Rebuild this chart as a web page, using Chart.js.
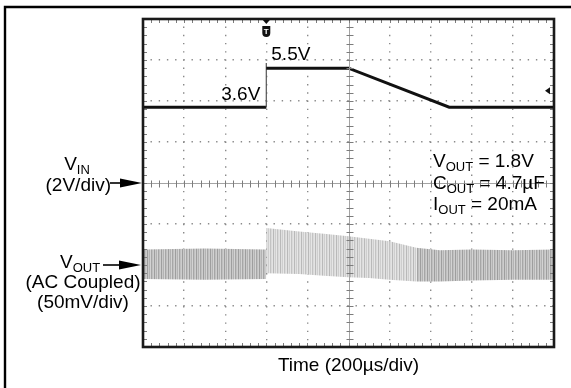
<!DOCTYPE html>
<html><head><meta charset="utf-8">
<script src="https://cdn.jsdelivr.net/npm/chart.js@4.4.1/dist/chart.umd.min.js"></script>
<style>html,body{margin:0;padding:0;background:#fff;overflow:hidden}#wrap{width:571px;height:388px;position:relative}</style>
</head><body><div id="wrap"><canvas id="c" width="571" height="388"></canvas></div>
<script>
// ---- axes (oscilloscope divisions) ----
const timeMin = -1000, timeMax = 1000, timeStep = 200;      // µs, 200 µs/div
const vinMin = -8, vinMax = 8, vinStep = 2;                  // V, 2 V/div, ground at centre
const voutMin = -100, voutMax = 300;                         // mV, 50 mV/div, AC coupled ground 2 div below centre

// ---- V_IN trace (time µs, volts) ----
const vinTime  = [-1000, -400, -400, -400, 0, 490, 1000];
const vinVolts = [3.7, 3.7, 5.85, 5.6, 5.6, 3.7, 3.7];

// ---- V_OUT ripple envelope (time µs, mV) ----
const voutTime   = [-1000, -700, -401, -400, -240, -120, 0, 100, 200, 330, 445, 600, 800, 1000];
const voutTop    = [19, 20, 19, 45, 41, 38, 35, 32, 29, 21, 18, 19, 18, 19];
const voutBottom = [-17, -18, -17, -10, -11, -13, -15, -16, -18, -20, -20, -19, -18, -18];

// ---- trigger ----
const triggerTime = -400, triggerLevel = 4.5;

// ---- texts ----
const levelLabels = ['3.6V', '5.5V'];
const vinLabel  = [['V', false], ['IN', true]];
const vinScale  = '(2V/div)';
const voutLabel = [['V', false], ['OUT', true]];
const voutLines = ['(AC Coupled)', '(50mV/div)'];
const notes = [
  [['V', false], ['OUT', true], [' = 1.8V', false]],
  [['C', false], ['OUT', true], [' = 4.7µF', false]],
  [['I', false], ['OUT', true], [' = 20mA', false]]
];
const timeTitle = 'Time (200µs/div)';

const FONT = "'Liberation Sans', Arial, Helvetica, sans-serif";

function makePattern(cols) {
  const c = document.createElement('canvas'); c.width = cols.length; c.height = 1;
  const x = c.getContext('2d');
  cols.forEach((col, i) => { x.fillStyle = col; x.fillRect(i, 0, 1, 1); });
  return x.createPattern(c, 'repeat');
}
const patDark  = makePattern(['#9e9e9e', '#c9c9c9', '#b3b3b3', '#d3d3d3', '#a6a6a6', '#c0c0c0', '#cdcdcd']);
const patLight = makePattern(['#b9b9b9', '#e0e0e0', '#cecece', '#e6e6e6', '#c3c3c3', '#dadada', '#e3e3e3']);

function drawRuns(ctx, x, y, runs, align) {
  const w = runs.map(r => { ctx.font = (r[1] ? '13px ' : '19px ') + FONT; return ctx.measureText(r[0]).width; });
  const total = w.reduce((a, b) => a + b, 0);
  let cx = align === 'center' ? x - total / 2 : align === 'right' ? x - total : x;
  ctx.textAlign = 'left'; ctx.textBaseline = 'alphabetic';
  runs.forEach((r, i) => { ctx.font = (r[1] ? '13px ' : '19px ') + FONT; ctx.fillText(r[0], cx, y + (r[1] ? 4 : 0)); cx += w[i]; });
  return total;
}
function arrow(ctx, xs, xe, y) {
  ctx.strokeStyle = '#000'; ctx.fillStyle = '#000'; ctx.lineWidth = 1.6;
  ctx.beginPath(); ctx.moveTo(xs, y); ctx.lineTo(xe - 15, y); ctx.stroke();
  ctx.beginPath(); ctx.moveTo(xe - 22, y - 4.5); ctx.lineTo(xe, y); ctx.lineTo(xe - 22, y + 4.5); ctx.closePath(); ctx.fill();
}
function ln(ctx, x1, y1, x2, y2) { ctx.beginPath(); ctx.moveTo(x1, y1); ctx.lineTo(x2, y2); ctx.stroke(); }

const scopePlugin = {
  id: 'scope',
  beforeDraw(chart) {
    const ctx = chart.ctx; ctx.save();
    ctx.fillStyle = '#fff'; ctx.fillRect(0, 0, chart.width, chart.height);
    ctx.strokeStyle = '#000'; ctx.lineWidth = 2.4;
    ctx.beginPath(); ctx.moveTo(5, chart.height + 5); ctx.lineTo(5, 7); ctx.lineTo(chart.width + 5, 7); ctx.stroke();
    ctx.restore();
  },
  afterDatasetsDraw(chart) {
    const ctx = chart.ctx, a = chart.chartArea;
    const xs = chart.scales.x, yv = chart.scales.yVin, yo = chart.scales.yVout;
    const r = v => Math.round(v) + 0.5;
    ctx.save();
    const y0 = r(yv.getPixelForValue(0)), x0 = r(xs.getPixelForValue(0));
    // centre crosshair
    ctx.strokeStyle = '#a4a4a4'; ctx.lineWidth = 1;
    ln(ctx, a.left, y0, a.right, y0); ln(ctx, x0, a.top, x0, a.bottom);
    ctx.strokeStyle = '#7c7c7c';
    for (let t = timeMin; t <= timeMax + 1e-6; t += timeStep / 5) {
      const x = r(xs.getPixelForValue(t));
      ln(ctx, x, y0 - 3, x, y0 + 4);
      ln(ctx, x, a.top, x, a.top + 4); ln(ctx, x, a.bottom - 4, x, a.bottom);
    }
    for (let v = vinMin; v <= vinMax + 1e-6; v += vinStep / 5) {
      const y = r(yv.getPixelForValue(v));
      ln(ctx, x0 - 3, y, x0 + 4, y);
      ln(ctx, a.left, y, a.left + 4, y); ln(ctx, a.right - 4, y, a.right, y);
    }
    // frame
    ctx.strokeStyle = '#1a1a1a'; ctx.lineWidth = 2.6;
    ctx.strokeRect(a.left, a.top, a.right - a.left, a.bottom - a.top);

    // trigger marker (time)
    const tx = xs.getPixelForValue(triggerTime);
    ctx.fillStyle = '#111';
    ctx.beginPath(); ctx.moveTo(tx - 3.5, a.top + 1); ctx.lineTo(tx + 3.5, a.top + 1); ctx.lineTo(tx, a.top + 5); ctx.closePath(); ctx.fill();
    ctx.beginPath();
    ctx.moveTo(tx - 4, a.top + 7); ctx.lineTo(tx + 4, a.top + 7); ctx.lineTo(tx + 4, a.top + 14);
    ctx.arc(tx, a.top + 14, 4, 0, Math.PI); ctx.closePath(); ctx.fill();
    ctx.fillStyle = '#fff'; ctx.font = 'bold 8px ' + FONT; ctx.textAlign = 'center'; ctx.textBaseline = 'middle';
    ctx.fillText('T', tx, a.top + 13);
    // trigger level marker
    const ty = yv.getPixelForValue(triggerLevel);
    ctx.fillStyle = '#111';
    ctx.beginPath(); ctx.moveTo(a.right - 9, ty); ctx.lineTo(a.right - 4, ty - 3.5); ctx.lineTo(a.right - 4, ty + 3.5); ctx.closePath(); ctx.fill();

    // level labels
    ctx.fillStyle = '#000'; ctx.font = '19px ' + FONT; ctx.textBaseline = 'alphabetic';
    ctx.textAlign = 'right';
    ctx.fillText(levelLabels[0], tx - 6, yv.getPixelForValue(vinVolts[0]) - 7);
    ctx.textAlign = 'left';
    ctx.fillText(levelLabels[1], tx + 5, yv.getPixelForValue(vinVolts[3]) - 8);

    // notes
    const nx = a.left + 290, ny = yv.getPixelForValue(0) - 16;
    notes.forEach((n, i) => drawRuns(ctx, nx, ny + i * 21.5, n, 'left'));

    // V_IN label + arrow
    const vy = yv.getPixelForValue(0);
    arrow(ctx, a.left - 33, a.left - 1, vy);
    ctx.fillStyle = '#000';
    drawRuns(ctx, a.left - 66, vy - 13, vinLabel, 'center');
    ctx.font = '19px ' + FONT; ctx.textAlign = 'right'; ctx.fillText(vinScale, a.left - 32, vy + 8);

    // V_OUT label + arrow
    const oy = yo.getPixelForValue(0);
    arrow(ctx, a.left - 40, a.left - 2, oy);
    ctx.fillStyle = '#000';
    drawRuns(ctx, a.left - 83, oy + 3, voutLabel, 'left');
    ctx.font = '19px ' + FONT; ctx.textAlign = 'center';
    ctx.fillText(voutLines[0], a.left - 60, oy + 23);
    ctx.fillText(voutLines[1], a.left - 60, oy + 43);
    ctx.restore();
  }
};

const gridColor = c => (c.tick.value === 0 || Math.abs(c.tick.value) >= Math.abs(c.scale.max) - 1e-6) ? 'rgba(0,0,0,0)' : '#8a8a8a';

new Chart(document.getElementById('c'), {
  type: 'line',
  data: {
    datasets: [
      {
        label: 'VIN', yAxisID: 'yVin',
        data: vinTime.map((t, i) => ({ x: t, y: vinVolts[i] })),
        borderColor: '#111', borderWidth: 3, pointRadius: 0, tension: 0, fill: false,
        segment: {
          borderWidth: c => c.p0.parsed.x === c.p1.parsed.x ? 1.2 : undefined,
          borderColor: c => c.p0.parsed.x === c.p1.parsed.x ? '#555' : undefined
        }
      },
      {
        label: 'VOUT max', yAxisID: 'yVout',
        data: voutTime.map((t, i) => ({ x: t, y: voutTop[i] })),
        borderWidth: 0, borderColor: 'rgba(0,0,0,0)', pointRadius: 0, tension: 0,
        backgroundColor: patDark, fill: '+1',
        segment: { backgroundColor: c => (c.p0.parsed.x >= triggerTime && c.p0.parsed.x < 330) ? patLight : patDark }
      },
      {
        label: 'VOUT min', yAxisID: 'yVout',
        data: voutTime.map((t, i) => ({ x: t, y: voutBottom[i] })),
        borderWidth: 0, borderColor: 'rgba(0,0,0,0)', pointRadius: 0, tension: 0, fill: false
      }
    ]
  },
  options: {
    responsive: false, animation: false, events: [],
    layout: { padding: { left: 143, right: 17, top: 19, bottom: 11.2 } },
    plugins: { legend: { display: false }, tooltip: { enabled: false } },
    scales: {
      x: {
        type: 'linear', min: timeMin, max: timeMax,
        ticks: { display: false, stepSize: timeStep },
        grid: { drawTicks: false, color: gridColor, lineWidth: 1.4 },
        border: { display: false, dash: [1.4, 6.82], dashOffset: 0.7 },
        title: { display: true, text: timeTitle, color: '#000', font: { family: FONT, size: 19 }, padding: { top: 7, bottom: 0 } }
      },
      yVin: {
        type: 'linear', position: 'left', min: vinMin, max: vinMax,
        ticks: { display: false, stepSize: vinStep },
        grid: { drawTicks: false, color: gridColor, lineWidth: 1.4 },
        border: { display: false, dash: [1.4, 6.8], dashOffset: 0.7 }
      },
      yVout: { type: 'linear', display: false, min: voutMin, max: voutMax }
    }
  },
  plugins: [scopePlugin]
});
</script></body></html>
